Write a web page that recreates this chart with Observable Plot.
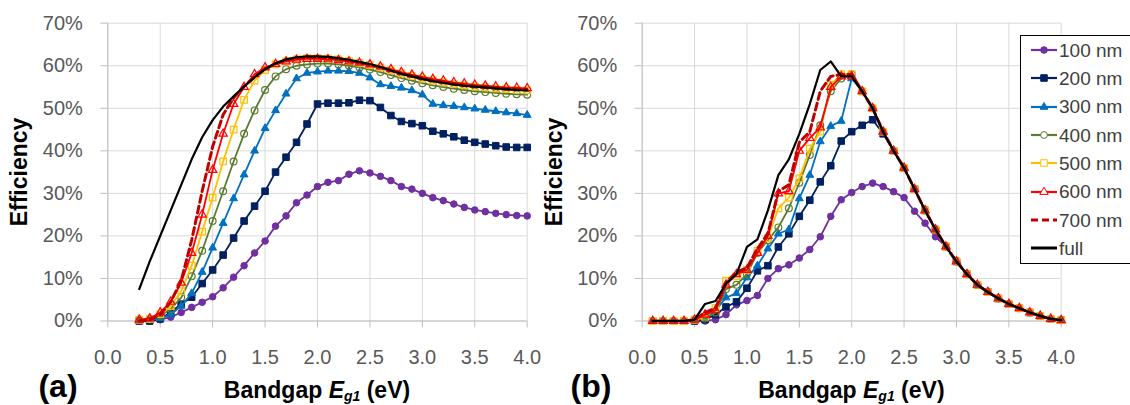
<!DOCTYPE html>
<html><head><meta charset="utf-8">
<script src="https://cdn.jsdelivr.net/npm/d3@7"></script>
<script src="https://cdn.jsdelivr.net/npm/@observablehq/plot@0.6"></script>
<style>
body{margin:0;background:#fff;}
#wrap{position:relative;width:1130px;height:405px;overflow:hidden;font-family:"Liberation Sans",Arial,sans-serif;background:#fff;}
.panel{position:absolute;top:0;}
.panel svg{overflow:visible;}
.t{position:absolute;white-space:nowrap;line-height:1;color:#000;font-weight:bold;}
.ylab{font-size:23px;transform:translate(-50%,-50%) rotate(-90deg);}
.xlab{font-size:23px;transform:translateX(-50%);}
.tag{font-size:32px;transform:translateX(-50%);}
#legend{position:absolute;left:1020px;top:35px;width:112px;height:229px;box-sizing:border-box;border:1px solid #000;background:#fff;}
.lrow{display:flex;align-items:center;height:28.33px;font-size:19px;color:#404040;line-height:1;}
.lrow svg{margin-left:10px;margin-right:2px;}
</style></head>
<body><div id="wrap">
<div id="pa" class="panel" style="left:0px"></div>
<div id="pb" class="panel" style="left:560px"></div>
<div class="t ylab" style="left:18.5px;top:171.5px">Efficiency</div>
<div class="t ylab" style="left:553.5px;top:171.5px">Efficiency</div>
<div class="t tag" style="left:58px;top:370px">(a)</div>
<div class="t tag" style="left:591px;top:370px">(b)</div>
<div class="t xlab" style="left:317px;top:379px">Bandgap <i>E</i><sub style="font-size:14px;vertical-align:-3px;line-height:1"><i>g1</i></sub> (eV)</div>
<div class="t xlab" style="left:851.4px;top:379px">Bandgap <i>E</i><sub style="font-size:14px;vertical-align:-3px;line-height:1"><i>g1</i></sub> (eV)</div>
<div id="legend"></div>
</div>
<script>
// ---- tick values ----
const xTicks = [0, 0.5, 1, 1.5, 2, 2.5, 3, 3.5, 4];
const yTicks = [0, 10, 20, 30, 40, 50, 60, 70];
const seriesNames = ["100 nm", "200 nm", "300 nm", "400 nm", "500 nm", "600 nm", "700 nm", "full"];

// ---- panel (a): bandgap values and efficiencies (%) ----
const xA = [0.3,0.4,0.5,0.6,0.7,0.8,0.9,1.0,1.1,1.2,1.3,1.4,1.5,1.6,1.7,1.8,1.9,2.0,2.1,2.2,2.3,2.4,2.5,2.6,2.7,2.8,2.9,3.0,3.1,3.2,3.3,3.4,3.5,3.6,3.7,3.8,3.9,4.0];
const a100 = [0,0,0.3,0.9,2,3.2,4.4,5.7,7.8,10.3,13,16,18.8,22.3,24.7,27.8,29.6,31.6,32.6,33,34.5,35.3,34.8,34,33,31.6,31,30,29,28.3,27.5,26.7,26.1,25.7,25.3,25,24.8,24.7];
const a200 = [0,0,0.5,2,4,5.6,8.8,12,15.5,19.5,23.5,27,30.5,35,38.5,42,46.3,51,51.2,51.2,51.3,51.9,51.8,50.2,48.3,46.9,46.4,45.9,44.6,44,43.3,42.5,42,41.6,41.2,40.9,40.8,40.8];
const a300 = [0,0.2,0.6,1.5,3.5,6.5,11.5,17.2,23,28.8,34.4,40,45.3,49.5,53.4,57,58.3,58.6,58.8,58.8,58.7,58.3,57.2,55.6,55.2,54.8,54.2,53.2,51,50.7,50.5,50.2,49.9,49.6,49.3,49,48.8,48.4];
const a400 = [0.2,0.4,1.2,2.8,5.5,10.5,16.5,23.5,30.5,37.5,44,49.5,54.3,57.5,59.2,60,60.3,60.5,60.5,60.3,60,59.6,59.1,58.5,57.8,57.1,56.5,55.9,55.4,55,54.6,54.3,54,53.8,53.6,53.4,53.3,53.2];
const a500 = [0.3,0.5,1.6,3.5,7,13,21,29,37.5,45,52,56.5,59,60.3,61,61.5,61.8,61.8,61.7,61.5,61.1,60.7,60.2,59.6,58.9,58.2,57.6,57,56.5,56.1,55.7,55.4,55.1,54.9,54.7,54.5,54.3,54.2];
const a600 = [0.3,0.6,2,4.5,9,16,25,35.5,44,51,55,58,59.6,60.4,61,61.4,61.6,61.6,61.5,61.3,61,60.7,60.3,59.8,59.2,58.5,57.9,57.4,56.9,56.5,56.1,55.8,55.5,55.3,55.1,54.9,54.8,54.7];
const a700 = [0,0.3,1.5,4.5,9.5,19,30.5,41,48.5,52.5,55.2,57.3,59.2,60.5,61.3,61.8,62,62,61.9,61.6,61.2,60.7,60.2,59.6,58.9,58.2,57.6,57,56.5,56.1,55.7,55.4,55.2,55,54.8,54.6,54.5,54.4];
const aFull = [7.5,14,20,26,32,38,43.2,47.2,50.4,52.8,55.1,57.3,59.2,60.6,61.5,62,62.2,62.2,62.1,61.8,61.4,60.9,60.4,59.7,58.9,58.1,57.5,56.9,56.4,56,55.6,55.3,55.1,54.9,54.7,54.5,54.3,54.2];

// ---- panel (b) ----
const xB = [0.1,0.2,0.3,0.4,0.5,0.6,0.7,0.8,0.9,1.0,1.1,1.2,1.3,1.4,1.5,1.6,1.7,1.8,1.9,2.0,2.1,2.2,2.3,2.4,2.5,2.6,2.7,2.8,2.9,3.0,3.1,3.2,3.3,3.4,3.5,3.6,3.7,3.8,3.9,4.0];
// shared falling edge, 2.1 .. 4.0 eV (all curves coincide there)
const bTail = [54,50,44.5,40,36,31,26,21.5,17.5,14,11,8.5,6.8,5.3,4,3,2,1.2,0.5,0.2];
const b100 = [0,0,0,0,0,0,0.3,1.5,3.8,4.8,6,10,12.3,13.2,14.8,16.8,19.8,24.6,28.5,30.2,31.6,32.4,31.6,30.4,29,25.8,23,19.8,17.5,14.2].concat(bTail.slice(10));
const b200 = [0,0,0,0,0,0.3,1.5,3.3,4.5,7.7,11.8,13,17.4,20.5,24.6,28.4,32.7,36.5,42.3,44.5,46,47.3,44,40,36].concat(bTail.slice(5));
const b300 = [0,0,0,0,0.2,0.8,2.5,5.5,6.5,10.2,13,17,20.5,21.5,28.8,34.3,42.2,45.8,47,57].concat(bTail);
const b400 = [0,0,0,0,0.2,0.6,2,7.5,8.5,11,16,19,22,26.5,32.5,39,46,54,57,58].concat(bTail);
const b500 = [0,0,0,0,0.3,1,3,9.5,10.5,12,16.5,19.5,26.5,29,33.5,40.5,44.5,55.5,58,58].concat(bTail);
const b600 = [0,0,0,0,0.3,1.5,2.5,8.5,11,12,16,20,30,30.5,40,43,45.5,55,57.5,57.5].concat(bTail);
const b700 = [0,0,0,0,0.3,2,3,9,11.5,12.5,17,20.5,30.5,32,42,44.5,54,57.5,58,58].concat(bTail);
const bFull = [0,0,0,0,0.3,4,4.7,8.8,11,17.4,19.2,26,34.3,38,44,51,59,61,57.5,57.5].concat(bTail);

// ---- series styles ----
const styles = [
  {color:"#7030A0", symbol:"circle",   r:3.3, open:false},
  {color:"#002060", symbol:"square",   r:3.7, open:false},
  {color:"#0070C0", symbol:"triangle", r:2.9, open:false},
  {color:"#5B7B2E", symbol:"circle",   r:3.4, open:true},
  {color:"#FFC000", symbol:"square",   r:3.7, open:true},
  {color:"#FF0000", symbol:"triangle", r:3.1, open:true},
  {color:"#C00000", symbol:null, width:3, dash:"7,4"},
  {color:"#000000", symbol:null, width:2.2}
];

function panel(xs, valsList, w, ml, mr) {
  const marks = [
    Plot.gridX(xTicks, {stroke:"#d9d9d9", strokeOpacity:1, strokeWidth:1}),
    Plot.gridY(yTicks, {stroke:"#d9d9d9", strokeOpacity:1, strokeWidth:1}),
    Plot.ruleX([0], {stroke:"#bfbfbf"}),
    Plot.ruleY([0], {stroke:"#bfbfbf"}),
    Plot.axisX(xTicks, {tickSize:7, tickPadding:22, stroke:"#bfbfbf", fill:"#595959", tickFormat:d => d.toFixed(1), label:null}),
    Plot.axisY(yTicks, {tickSize:7, tickPadding:18, stroke:"#bfbfbf", fill:"#595959", tickFormat:d => d + "%", label:null})
  ];
  valsList.forEach((vals, i) => {
    const st = styles[i];
    const rows = xs.map((x, j) => ({x, y: vals[j]}));
    marks.push(Plot.line(rows, {x:"x", y:"y", stroke:st.color, strokeWidth:st.width || 1.8, strokeDasharray:st.dash, strokeLinejoin:"round"}));
    if (st.symbol) marks.push(Plot.dot(rows, {x:"x", y:"y", symbol:st.symbol, r:st.r, fill:st.open ? "none" : st.color, stroke:st.color, strokeWidth:st.open ? 1.2 : 1}));
  });
  return Plot.plot({
    width:w, height:370,
    marginLeft:ml, marginRight:mr, marginTop:22.7, marginBottom:49.5,
    style:{fontFamily:"'Liberation Sans', Arial, sans-serif", fontSize:"20px", background:"transparent", overflow:"visible"},
    x:{domain:[0,4]},
    y:{domain:[0,70]},
    marks
  });
}

document.getElementById("pa").append(panel(xA, [a100,a200,a300,a400,a500,a600,a700,aFull], 560, 107.3, 33.3));
document.getElementById("pb").append(panel(xB, [b100,b200,b300,b400,b500,b600,b700,bFull], 570, 81.7, 69.3));

// ---- legend ----
const leg = d3.select("#legend");
const symMap = {circle:d3.symbolCircle, square:d3.symbolSquare, triangle:d3.symbolTriangle};
seriesNames.forEach((name, i) => {
  const st = styles[i];
  const row = leg.append("div").attr("class","lrow");
  const s = row.append("svg").attr("width",26).attr("height",14);
  s.append("line").attr("x1",0).attr("x2",26).attr("y1",7).attr("y2",7)
    .attr("stroke",st.color).attr("stroke-width", st.symbol ? 2.2 : 3)
    .attr("stroke-dasharray", st.dash ? "7,4" : null);
  if (st.symbol) {
    s.append("path").attr("transform","translate(13,7)")
      .attr("d", d3.symbol().type(symMap[st.symbol]).size(Math.PI*st.r*st.r)())
      .attr("fill", st.open ? "#fff" : st.color).attr("stroke", st.color).attr("stroke-width", 1);
  }
  row.append("span").text(name);
});
</script>
</body></html>
